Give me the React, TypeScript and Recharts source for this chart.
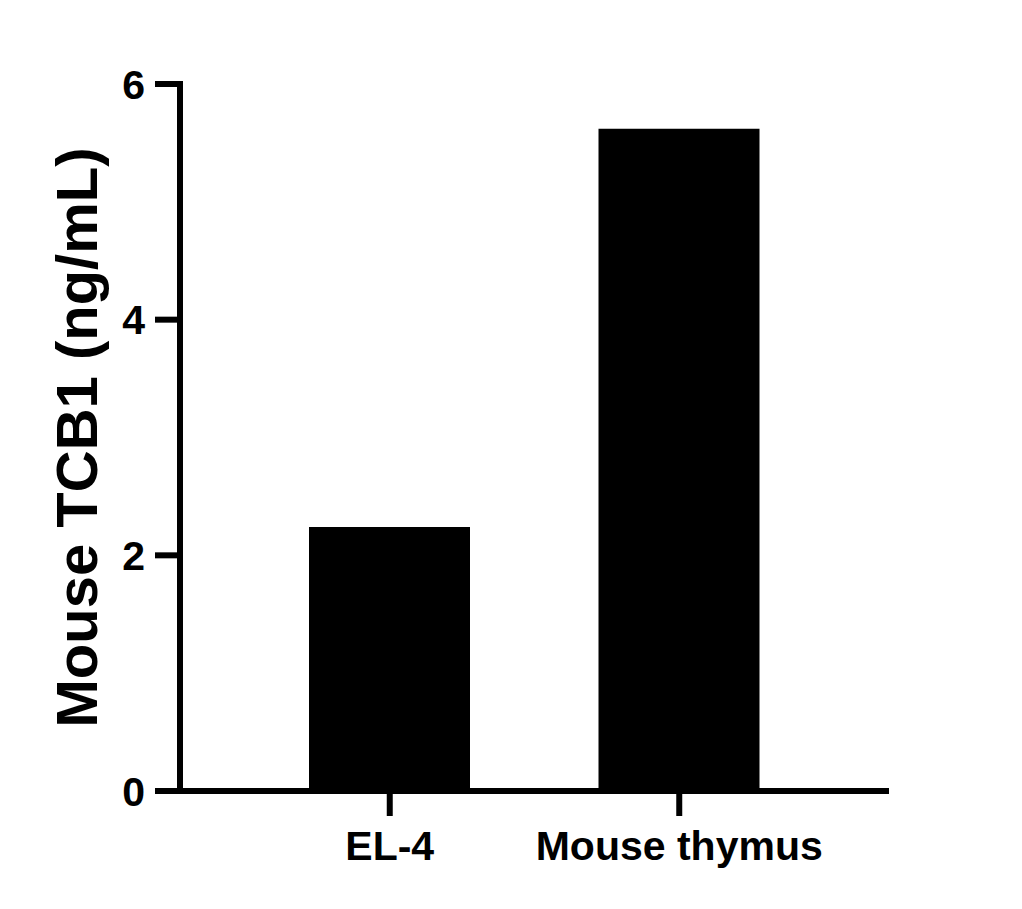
import React from 'react';
import { BarChart, Bar, XAxis, YAxis } from 'recharts';

const categories = ['EL-4', 'Mouse thymus'];
const tcb1Values = [2.24, 5.62];
const yTicks = [0, 2, 4, 6];

const data = categories.map((name, i) => ({ name, value: tcb1Values[i] }));

const FONT = 'Arial, "Liberation Sans", sans-serif';

const YTitle = (props: any) => {
  const vb = props.viewBox || { x: 0, y: 0, width: 0, height: 0 };
  const cx = vb.x + vb.width / 2 - 14;
  const cy = vb.y + vb.height / 2;
  return (
    <text
      x={cx}
      y={cy}
      transform={`rotate(-90, ${cx}, ${cy})`}
      textAnchor="middle"
      dy="0.355em"
      fontFamily={FONT}
      fontWeight="bold"
      fontSize={58}
      fill="#000"
    >
      Mouse TCB1 (ng/mL)
    </text>
  );
};

export default function App() {
  const tickStyle = { fill: '#000', stroke: 'none', fontSize: 41, fontWeight: 'bold' as const, fontFamily: FONT };
  return (
    <div style={{ position: 'absolute', left: 0, top: 0, background: '#fff' }}>
      <BarChart
        width={1022}
        height={909}
        data={data}
        margin={{ top: 84, right: 133, bottom: 0, left: 0 }}
      >
        <XAxis
          dataKey="name"
          height={118}
          padding={{ left: 65, right: 65 }}
          stroke="#000"
          strokeWidth={6}
          axisLine={{ stroke: '#000', strokeWidth: 6 }}
          tickLine={{ stroke: '#000', strokeWidth: 6 }}
          tickSize={25}
          tickMargin={15}
          tick={tickStyle}
        />
        <YAxis
          width={180}
          domain={[0, 6]}
          ticks={yTicks}
          stroke="#000"
          strokeWidth={6}
          axisLine={{ stroke: '#000', strokeWidth: 6, strokeLinecap: 'square' }}
          tickLine={{ stroke: '#000', strokeWidth: 6 }}
          tickSize={25}
          tickMargin={10}
          tick={tickStyle}
          label={<YTitle />}
        />
        <Bar dataKey="value" fill="#000" barSize={161} isAnimationActive={false} />
      </BarChart>
    </div>
  );
}
